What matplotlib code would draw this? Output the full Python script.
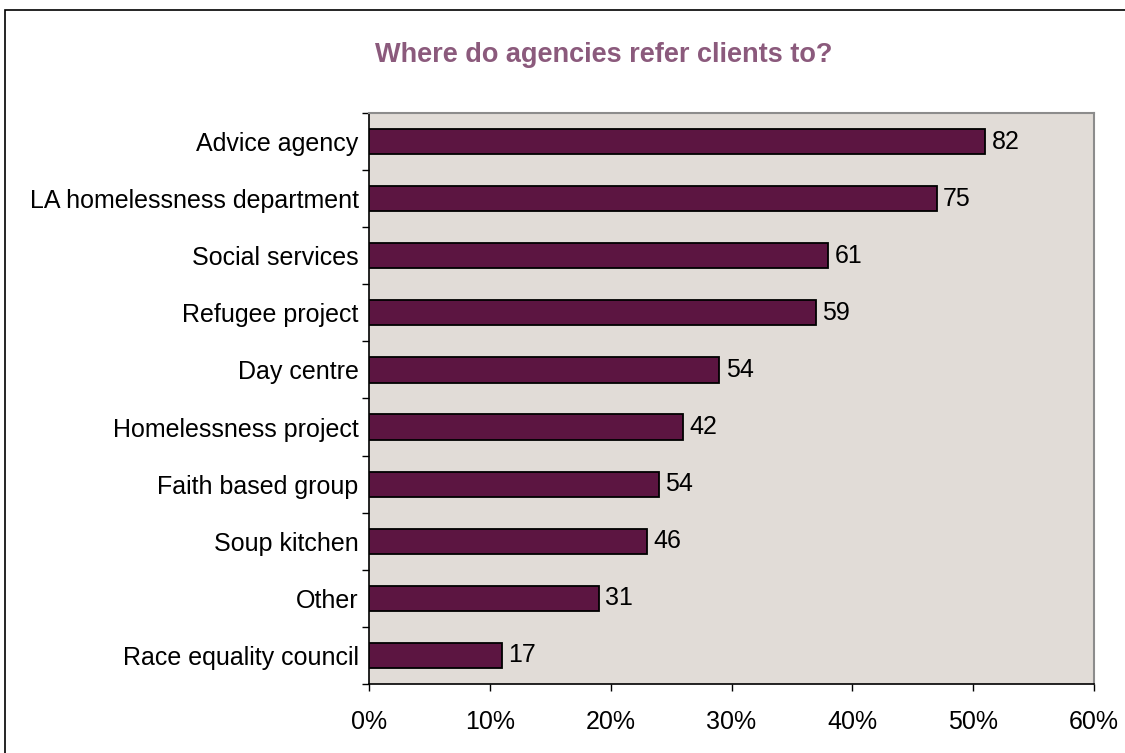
import matplotlib
matplotlib.use("Agg")
import matplotlib.pyplot as plt
import numpy as np
from matplotlib.ticker import FixedLocator, PercentFormatter
from matplotlib.patches import Rectangle

categories = ["Advice agency", "LA homelessness department", "Social services",
              "Refugee project", "Day centre", "Homelessness project",
              "Faith based group", "Soup kitchen", "Other", "Race equality council"]
percentages = [51, 47, 38, 37, 29, 26, 24, 23, 19, 11]
counts = [82, 75, 61, 59, 54, 42, 54, 46, 31, 17]
xticks = [0, 10, 20, 30, 40, 50, 60]

plt.rcParams['font.family'] = ['Liberation Sans', 'DejaVu Sans']

fig = plt.figure(figsize=(11.25, 7.53), dpi=100)
fig.patch.set_facecolor('white')

# outer chart border
fig.add_artist(Rectangle((5/1125, -0.05), 1.2, 1 - 10/753 + 0.05, transform=fig.transFigure,
                         fill=False, edgecolor='black', linewidth=1.2))

ax = fig.add_axes([369/1125, 1 - 684/753, (1094 - 369)/1125, (684 - 113)/753])
ax.set_facecolor('#E1DCD7')

y = np.arange(len(categories))
ax.barh(y, percentages, height=0.44, color='#5C1541', edgecolor='black', linewidth=1.3, zorder=3)

for yi, p, c in zip(y, percentages, counts):
    ax.annotate(str(c), xy=(p, yi), xytext=(4.5, 0), textcoords='offset points',
                va='center', ha='left', fontsize=18, color='black')

ax.set_xlim(0, 60)
ax.set_ylim(len(categories) - 0.5, -0.5)
ax.set_xticks(xticks)
ax.xaxis.set_major_formatter(PercentFormatter(decimals=0))
ax.set_yticks(y)
ax.set_yticklabels(categories)
ax.yaxis.set_minor_locator(FixedLocator(np.arange(-0.5, len(categories), 1.0)))
ax.tick_params(axis='y', which='major', length=0, pad=7.5, labelsize=18)
ax.tick_params(axis='y', which='minor', length=5, width=1, direction='out')
ax.tick_params(axis='x', which='major', length=5, width=1, direction='out', pad=14, labelsize=18)

for s in ['top', 'right']:
    ax.spines[s].set_color('#8C8C8C')
    ax.spines[s].set_linewidth(1.5)
for s in ['left', 'bottom']:
    ax.spines[s].set_color('black')
    ax.spines[s].set_linewidth(1.2)

fig.text(604/1125, 1 - 55/753, "Where do agencies refer clients to?", ha='center', va='center',
         fontsize=19.5, fontweight='bold', color='#8B5A7C')

fig.savefig("out.png", dpi=100)
